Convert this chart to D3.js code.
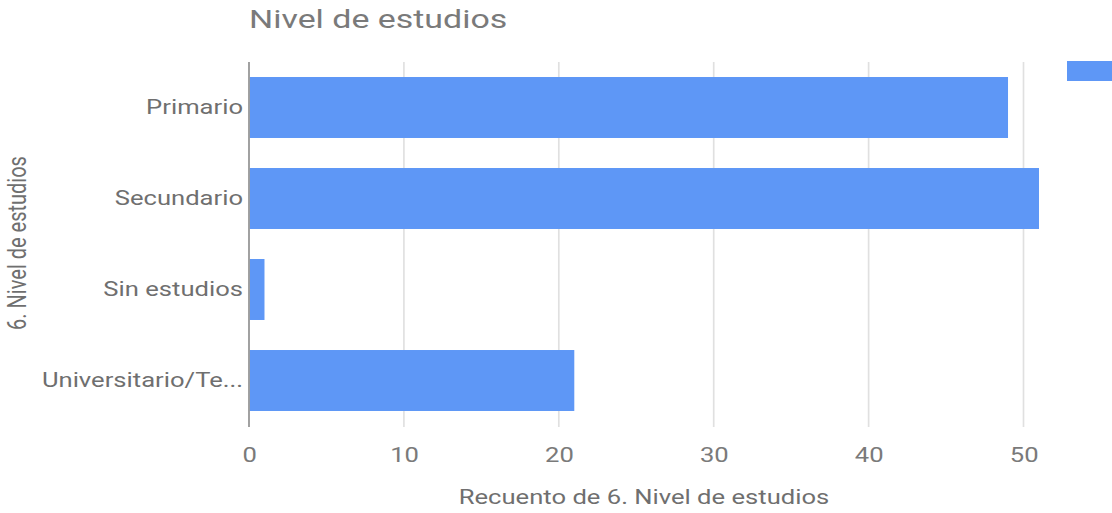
<!DOCTYPE html>
<html>
<head>
<meta charset="utf-8">
<script src="https://cdn.jsdelivr.net/npm/d3@7"></script>
<style>
  html, body { margin: 0; padding: 0; background: #fff; }
  svg { display: block; }
  text { font-family: Roboto, "Liberation Sans", Arial, sans-serif; }
</style>
</head>
<body>
<svg id="chart"></svg>
<script>
// Count of respondents by education level
const categories = ["Primario", "Secundario", "Sin estudios", "Universitario/Te..."];
const counts = [49, 51, 1, 21];
const xTicks = [0, 10, 20, 30, 40, 50];

const chartTitle = "Nivel de estudios";
const xTitle = "Recuento de 6. Nivel de estudios";
const yTitle = "6. Nivel de estudios";

const W = 1112, H = 513;
// the chart is drawn in a narrower coordinate space and widened to the page
const sx = 1.28;
const px = v => v / sx;

const svg = d3.select("#chart")
  .attr("width", W).attr("height", H)
  .attr("viewBox", `0 0 ${W / sx} ${H}`)
  .attr("preserveAspectRatio", "none");

const plot = { left: 249, right: 1039, top: 62, bottom: 426 };
const labelColor = "#6f6f6f";
const fontStack = "Roboto, 'Liberation Sans', Arial, sans-serif";

const x = d3.scaleLinear().domain([0, 51]).range([px(plot.left), px(plot.right)]);
const y = d3.scaleBand().domain(categories).range([plot.top, plot.bottom])
  .paddingInner(0.33).paddingOuter(0.165);

// vertical gridlines
svg.append("g").selectAll("line").data(xTicks.filter(d => d !== 0)).join("line")
  .attr("x1", d => x(d)).attr("x2", d => x(d))
  .attr("y1", plot.top).attr("y2", 427)
  .attr("stroke", "#e0e0e0").attr("stroke-width", 1.3);

// bars
svg.append("g").selectAll("rect").data(categories).join("rect")
  .attr("x", x(0))
  .attr("y", d => y(d))
  .attr("width", (d, i) => x(counts[i]) - x(0))
  .attr("height", y.bandwidth())
  .attr("fill", "#5e97f6");

// baseline at zero
svg.append("line")
  .attr("x1", x(0)).attr("x2", x(0))
  .attr("y1", plot.top).attr("y2", 427)
  .attr("stroke", "#9e9e9e").attr("stroke-width", 1.5);

// x axis tick labels
const xAxis = svg.append("g")
  .attr("transform", `translate(0,${427})`)
  .call(d3.axisBottom(x).tickValues(xTicks).tickSize(0).tickPadding(21).tickFormat(d3.format("d")));
xAxis.select(".domain").remove();
xAxis.selectAll("text")
  .attr("font-size", 20).attr("fill", "#7a7a7a")
  .style("font-family", fontStack);

// category labels
const yAxis = svg.append("g")
  .attr("transform", `translate(${px(plot.left)},0)`)
  .call(d3.axisLeft(y).tickSize(0).tickPadding(px(6)));
yAxis.select(".domain").remove();
yAxis.selectAll("text")
  .attr("font-size", 20).attr("fill", labelColor)
  .style("font-family", fontStack);

// title
svg.append("text")
  .attr("x", px(249)).attr("y", 28)
  .attr("font-size", 26.5).attr("fill", "#7a7a7a")
  .text(chartTitle);

// x axis title
svg.append("text")
  .attr("x", px((plot.left + plot.right) / 2)).attr("y", 504)
  .attr("text-anchor", "middle")
  .attr("font-size", 20).attr("fill", labelColor)
  .text(xTitle);

// y axis title
svg.append("text")
  .attr("transform", `translate(${px(26)},${243}) rotate(-90)`)
  .attr("text-anchor", "middle")
  .attr("font-size", 20).attr("fill", labelColor)
  .text(yTitle);

// legend swatch (its label lies beyond the right edge)
svg.append("rect")
  .attr("x", px(1067)).attr("y", 61)
  .attr("width", px(60)).attr("height", 20)
  .attr("fill", "#5e97f6");
</script>
</body>
</html>
